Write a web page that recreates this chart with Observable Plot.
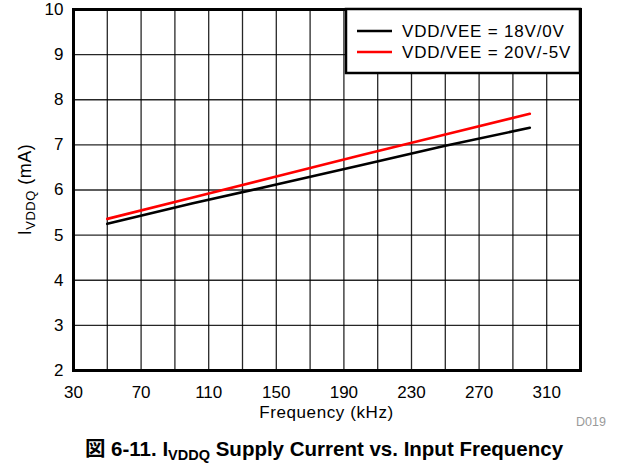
<!DOCTYPE html>
<html>
<head>
<meta charset="utf-8">
<script src="https://cdn.jsdelivr.net/npm/d3@7"></script>
<script src="https://cdn.jsdelivr.net/npm/@observablehq/plot@0.6"></script>
<style>
  html, body { margin: 0; padding: 0; background: #fff; }
  #wrap { position: relative; width: 618px; height: 466px; overflow: hidden; font-family: "Liberation Sans", Arial, "Noto Sans CJK JP", sans-serif; }
  #chart { position: absolute; left: 0; top: 0; }
  #d019 { position: absolute; left: 576px; top: 415px; font-size: 12.5px; color: #9a9a9a; }
  #caption { position: absolute; left: 0; top: 432px; width: 648px; text-align: center; font-weight: bold; font-size: 20.5px; color: #000; white-space: nowrap; }
  #caption sub { font-size: 14.5px; vertical-align: -4px; line-height: 0; }
</style>
</head>
<body>
<div id="wrap">
  <div id="chart"></div>
  <div id="d019">D019</div>
  <div id="caption">図 6-11. I<sub>VDDQ</sub> Supply Current vs. Input Frequency</div>
</div>
<script>
// ---- data ----
const seriesNames = ["VDD/VEE = 18V/0V", "VDD/VEE = 20V/-5V"];
const seriesColors = ["#000000", "#ff0000"];
const freqKHz = [50, 100, 150, 200, 250, 300];
const iddq18V0V = [5.25, 5.70, 6.12, 6.55, 6.98, 7.38];
const iddq20Vm5V = [5.36, 5.83, 6.30, 6.77, 7.23, 7.69];
const xTickLabels = [30, 70, 110, 150, 190, 230, 270, 310];
const xGridValues = [30, 50, 70, 90, 110, 130, 150, 170, 190, 210, 230, 250, 270, 290, 310, 330];
const yTickLabels = [2, 3, 4, 5, 6, 7, 8, 9, 10];
const xLabel = "Frequency (kHz)";

const rows = [];
freqKHz.forEach((f, i) => {
  rows.push({ f, v: iddq18V0V[i], s: seriesNames[0] });
});
freqKHz.forEach((f, i) => {
  rows.push({ f, v: iddq20Vm5V[i], s: seriesNames[1] });
});

const plot = Plot.plot({
  width: 618,
  height: 430,
  marginLeft: 73,
  marginRight: 38,
  marginTop: 9,
  marginBottom: 60,
  style: { fontFamily: '"Liberation Sans", Arial, sans-serif', fontSize: "17px", color: "#000", background: "#fff", overflow: "visible" },
  x: { domain: [30, 330] },
  y: { domain: [2, 10] },
  color: { domain: seriesNames, range: seriesColors },
  marks: [
    Plot.gridX(xGridValues, { stroke: "#000", strokeOpacity: 0.85, strokeWidth: 1.3 }),
    Plot.gridY(yTickLabels, { stroke: "#000", strokeOpacity: 0.85, strokeWidth: 1.3 }),
    Plot.line(rows, { x: "f", y: "v", z: "s", stroke: "s", strokeWidth: 2.6 }),
    Plot.frame({ stroke: "#000", strokeWidth: 3 }),
    Plot.axisX(xTickLabels, { tickSize: 0, tickPadding: 15, label: null, fontSize: 17 }),
    Plot.axisY(yTickLabels, { tickSize: 0, tickPadding: 10, label: null, fontSize: 17 })
  ]
});
document.getElementById("chart").appendChild(plot);

const svg = d3.select(plot);
const xs = plot.scale("x");
const ys = plot.scale("y");
const [x0, x1] = xs.range;
const [yb, yt] = ys.range;

// x axis title
svg.append("text")
  .attr("x", (x0 + x1) / 2)
  .attr("y", 418)
  .attr("text-anchor", "middle")
  .attr("font-size", 17)
  .attr("letter-spacing", "0.6px")
  .text(xLabel);

// y axis title with subscript
const yt0 = svg.append("text")
  .attr("transform", `translate(31,${(yb + yt) / 2}) rotate(-90)`)
  .attr("text-anchor", "middle")
  .attr("font-size", 18)
  .attr("letter-spacing", "0.5px");
yt0.append("tspan").text("I");
yt0.append("tspan").attr("font-size", 13).attr("dy", 4).text("VDDQ");
yt0.append("tspan").attr("dy", -4).text(" (mA)");

// legend
const lg = svg.append("g");
const lx = 346, ly = yt, lw = x1 - 346, lh = 64;
lg.append("rect").attr("x", lx).attr("y", ly).attr("width", lw).attr("height", lh)
  .attr("fill", "#fff").attr("stroke", "#000").attr("stroke-width", 2.5);
seriesNames.forEach((name, i) => {
  const cy = ly + 22 + i * 21;
  lg.append("line").attr("x1", lx + 11).attr("x2", lx + 46).attr("y1", cy).attr("y2", cy)
    .attr("stroke", seriesColors[i]).attr("stroke-width", 2.6);
  lg.append("text").attr("x", lx + 56).attr("y", cy).attr("dy", "0.35em")
    .attr("text-anchor", "start")
    .attr("font-size", 17).attr("letter-spacing", "0.8px").text(name);
});
</script>
</body>
</html>
